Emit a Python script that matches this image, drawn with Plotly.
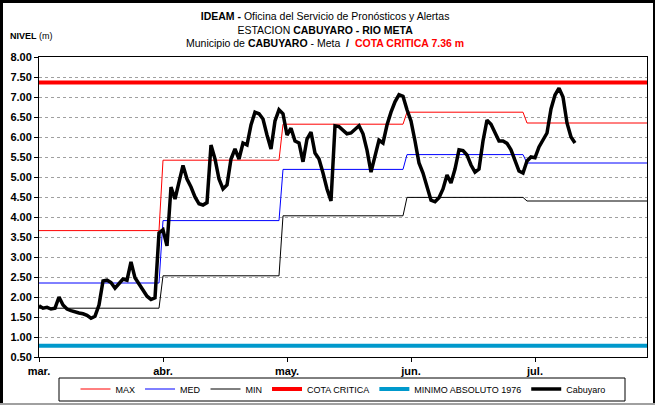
import pandas as pd
import plotly.graph_objects as go

# ---- data -------------------------------------------------------------
start_date = "2011-03-01"
axis_end = "2011-07-31"

months = ["2011-03", "2011-04", "2011-05", "2011-06", "2011-07"]
month_labels = ["mar.", "abr.", "may.", "jun.", "jul."]

# monthly historical levels (m)
nivel_max = [3.66, 5.42, 6.32, 6.62, 6.35]
nivel_med = [2.35, 3.91, 5.19, 5.56, 5.35]
nivel_min = [1.72, 2.53, 4.03, 4.49, 4.40]

cota_critica = 7.36
minimo_absoluto = 0.78

# daily level at Cabuyaro (m), from 1 March
cabuyaro = [
    1.78, 1.72, 1.74, 1.70, 1.72, 2.00, 1.80, 1.70, 1.66, 1.62,
    1.60, 1.58, 1.54, 1.47, 1.52, 1.80, 2.40, 2.42, 2.36, 2.22,
    2.35, 2.45, 2.42, 2.88, 2.48, 2.32, 2.15, 2.02, 1.94, 1.98,
    3.60, 3.68, 3.28, 4.75, 4.45, 4.90, 5.29, 4.95, 4.75, 4.50,
    4.33, 4.30, 4.36, 5.80, 5.45, 4.95, 4.70, 4.80, 5.45, 5.70,
    5.45, 5.85, 5.80, 6.30, 6.62, 6.58, 6.45, 6.05, 5.70, 6.40,
    6.68, 6.58, 6.05, 6.22, 5.90, 5.85, 5.38, 5.95, 6.12, 5.60,
    5.45, 5.10, 4.70, 4.40, 6.28, 6.26, 6.18, 6.08, 6.10, 6.18,
    6.28, 6.08, 5.67, 5.12, 5.50, 5.92, 5.85, 6.30, 6.62, 6.88,
    7.06, 7.02, 6.68, 6.40, 5.90, 5.35, 5.10, 4.75, 4.42, 4.38,
    4.48, 4.70, 5.05, 4.85, 5.20, 5.68, 5.66, 5.55, 5.30, 5.12,
    5.20, 5.90, 6.42, 6.32, 6.10, 5.90, 5.90, 5.84, 5.68, 5.42,
    5.15, 5.10, 5.40, 5.50, 5.48, 5.75, 5.92, 6.10, 6.70, 7.05,
    7.22, 7.00, 6.35, 6.00, 5.85,
]

# ---- helpers ----------------------------------------------------------
t0 = pd.Timestamp(start_date)
t_end = pd.Timestamp(axis_end)
days = pd.date_range(t0, periods=len(cabuyaro), freq="D")


def monthly_steps(values):
    xs, ys = [], []
    for m, v in zip(months, values):
        p = pd.Period(m, freq="M")
        first = p.start_time
        last = min(p.end_time.normalize(), t_end)
        xs += [first, last]
        ys += [v, v]
    return xs, ys


# labels every 31 days along the axis
tick_vals = [t0 + pd.Timedelta(days=31 * k) for k in range(len(month_labels))]

FONT = "Liberation Sans, Arial, sans-serif"

fig = go.Figure()

for name, vals, color in [("MAX", nivel_max, "#FF0000"),
                          ("MED", nivel_med, "#0000FF"),
                          ("MIN", nivel_min, "#000000")]:
    xs, ys = monthly_steps(vals)
    fig.add_trace(go.Scatter(x=xs, y=ys, mode="lines", name=name,
                             line=dict(color=color, width=1)))

fig.add_trace(go.Scatter(x=[t0, t_end], y=[cota_critica, cota_critica],
                         mode="lines", name="COTA CRITICA",
                         line=dict(color="#FF0000", width=4)))
fig.add_trace(go.Scatter(x=[t0, t_end], y=[minimo_absoluto, minimo_absoluto],
                         mode="lines", name="MINIMO ABSOLUTO 1976",
                         line=dict(color="#0099CC", width=4)))
fig.add_trace(go.Scatter(x=days, y=cabuyaro, mode="lines", name="Cabuyaro",
                         line=dict(color="#000000", width=3.5)))

# ---- layout -----------------------------------------------------------
W, H = 655, 405
ml, mr, mt, mb = 39, 8, 57, 48
pw, ph = W - ml - mr, H - mt - mb


def px_x(px):
    return (px - ml) / pw


def px_y(py):
    return (H - mb - py) / ph


title_text = (
    "<b>IDEAM -</b> Oficina del Servicio de Pronósticos y Alertas<br>"
    "ESTACION <b>CABUYARO - RIO META</b><br>"
    "Municipio de <b>CABUYARO</b> - Meta  <b>/</b>  "
    f"<span style='color:#FF0000'><b>COTA CRITICA {cota_critica:.2f} m</b></span>"
)

fig.update_layout(
    width=W, height=H,
    margin=dict(l=ml, r=mr, t=mt, b=mb, pad=0, autoexpand=False),
    paper_bgcolor="white", plot_bgcolor="white",
    font=dict(family=FONT, size=10, color="black"),
    showlegend=True,
    legend=dict(
        orientation="h", x=0.5, xanchor="center",
        y=px_y(374.5), yanchor="top",
        borderwidth=0, bgcolor="rgba(0,0,0,0)",
        font=dict(family=FONT, size=9, color="black"),
        itemwidth=30, traceorder="normal",
    ),
    xaxis=dict(
        type="date", range=[t0, t_end],
        tickvals=tick_vals, ticktext=month_labels,
        ticks="outside", ticklen=4, tickcolor="black",
        showgrid=False, zeroline=False,
        showline=True, linecolor="black", linewidth=1, mirror=True,
        tickfont=dict(family=FONT, size=11, color="black", weight="bold"),
    ),
    yaxis=dict(
        range=[0.5, 8.0], dtick=0.5, tick0=0.5, tickformat=".2f",
        ticks="outside", ticklen=4, tickcolor="black",
        showgrid=True, gridcolor="#A0A0A0", griddash="dot", gridwidth=1,
        zeroline=False,
        showline=True, linecolor="black", linewidth=1, mirror=True,
        tickfont=dict(family=FONT, size=11, color="black", weight="bold"),
    ),
    annotations=[
        dict(text=title_text, xref="paper", yref="paper",
             x=px_x(325), y=px_y(8), xanchor="center", yanchor="top",
             showarrow=False, align="center",
             font=dict(family=FONT, size=10.5, color="black")),
        dict(text="<b>NIVEL</b> (m)", xref="paper", yref="paper",
             x=px_x(8), y=px_y(36), xanchor="left", yanchor="middle",
             showarrow=False, font=dict(family=FONT, size=9, color="black")),
    ],
    shapes=[
        # legend box
        dict(type="rect", xref="paper", yref="paper",
             x0=px_x(59), x1=px_x(625), y0=px_y(401), y1=px_y(378),
             line=dict(color="black", width=1), fillcolor="rgba(0,0,0,0)"),
        # chart frame
        dict(type="line", xref="paper", yref="paper",
             x0=px_x(0), x1=px_x(W), y0=px_y(1.5), y1=px_y(1.5),
             line=dict(color="black", width=3)),
        dict(type="line", xref="paper", yref="paper",
             x0=px_x(1.5), x1=px_x(1.5), y0=px_y(0), y1=px_y(H),
             line=dict(color="black", width=3)),
        dict(type="line", xref="paper", yref="paper",
             x0=px_x(W - 1), x1=px_x(W - 1), y0=px_y(0), y1=px_y(H),
             line=dict(color="black", width=2)),
        dict(type="line", xref="paper", yref="paper",
             x0=px_x(0), x1=px_x(W), y0=px_y(H - 1), y1=px_y(H - 1),
             line=dict(color="#A0A0A0", width=2)),
    ],
)

fig.write_html("out.html")
